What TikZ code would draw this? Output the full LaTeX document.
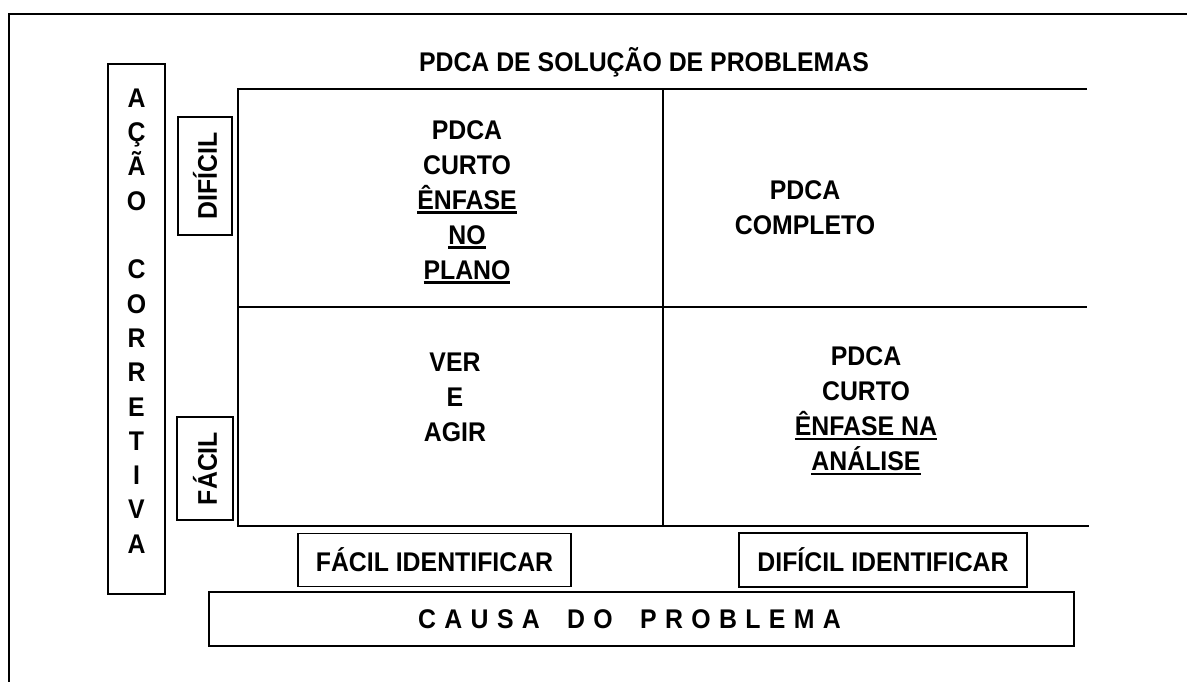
\documentclass[tikz,border=0pt]{standalone}
\usepackage{fontspec}
\setmainfont[FakeStretch=0.92]{Liberation Sans}
\usetikzlibrary{positioning}
\newcommand{\sublin}[1]{\setbox0\hbox{#1}\rlap{\rule[-4.5pt]{\wd0}{2.2pt}}\box0}

\begin{document}
\begin{tikzpicture}[x=1pt,y=-1pt,
                   box/.style={draw,line width=1.8pt,inner sep=0pt},
                   grade/.style={line width=2.6pt},
                   txt/.style={font=\fontsize{27}{35}\selectfont\bfseries,align=center}]
  \useasboundingbox (0,0) rectangle (1187,682);
  \draw[line width=1.6pt] (9,682) -- (9,14) -- (1187,14);

  \node[txt] (titulo) at (644,62) {PDCA DE SOLUÇÃO DE PROBLEMAS};

  \coordinate (no) at (238,89);
  \coordinate (ne) at (1087,89);
  \coordinate (so) at (238,526);
  \coordinate (se) at (1089,526);
  \draw[grade] (ne) -- (no) -- (so) -- (se);
  \draw[grade] (238,307) -- (1087,307);
  \draw[grade] (663,89) -- (663,526);

  \node[txt] (plano) at (467,202) {PDCA\\CURTO\\\sublin{ÊNFASE}\\\sublin{NO}\\\sublin{PLANO}};
  \node[txt] (completo) at (805,208) {PDCA\\COMPLETO};
  \node[txt] (veragir) at (455,397) {VER\\E\\AGIR};
  \node[txt] (analise) at (866,411) {PDCA\\CURTO\\\sublin{ÊNFASE NA}\\\sublin{ANÁLISE}};

  \node[box,minimum width=57,minimum height=530] (acao) at (136.5,329) {};
  \node[txt,font=\fontsize{27}{34.3}\selectfont\bfseries] (acaotxt) at ([yshift=8pt]acao.center)
    {A\\Ç\\Ã\\O\\~\\C\\O\\R\\R\\E\\T\\I\\V\\A};

  \node[box,txt,rotate=90,minimum width=118,minimum height=54] (dificil) at (205,176) {DIFÍCIL};
  \node[box,txt,rotate=90,minimum width=103,minimum height=56] (facil) at (205,468.5) {FÁCIL};

  \node[box,txt,minimum width=273,minimum height=53] (facilid) at (434.5,560) {FÁCIL IDENTIFICAR};
  \node[box,txt,minimum width=288,minimum height=54] (dificilid) at (883,560) {DIFÍCIL IDENTIFICAR};
  \node[box,minimum width=865,minimum height=54] (causa) at (641.5,619) {};
  \node[txt,font=\fontsize{27}{30}\selectfont\bfseries\addfontfeature{LetterSpace=31}] (causatxt)
    at ([xshift=-12pt]causa.center) {CAUSA\hspace{12pt} DO\hspace{12pt} PROBLEMA};
\end{tikzpicture}
\end{document}
